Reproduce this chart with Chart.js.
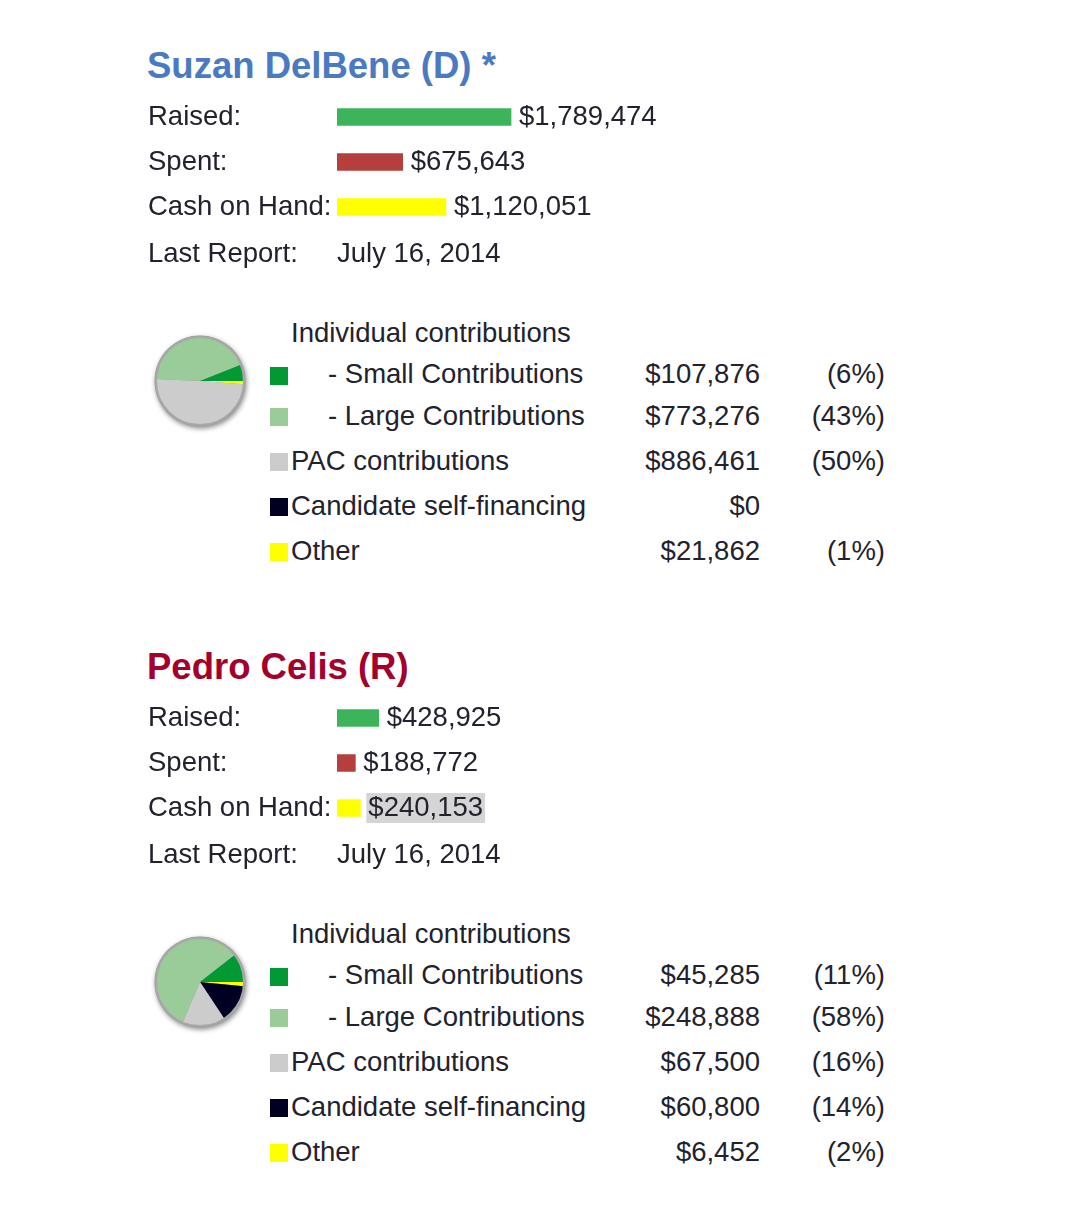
<!DOCTYPE html>
<html>
<head>
<meta charset="utf-8">
<script src="https://cdn.jsdelivr.net/npm/chart.js@4"></script>
<style>
body { margin: 0; background: #fff; width: 1080px; height: 1217px; position: relative; overflow: hidden;
       font-family: "Liberation Sans", Arial, sans-serif; color: #22222e; }
.t { position: absolute; white-space: nowrap; font-size: 27.5px; line-height: 27.5px; }
.h { position: absolute; white-space: nowrap; font-size: 36.5px; line-height: 36.5px; font-weight: bold; }
.sq { position: absolute; width: 18px; height: 18px; }
canvas { position: absolute; }
</style>
</head>
<body>
<script>
const FONT_FAMILY = '"Liberation Sans", Arial, sans-serif';
const TEXT = '#22222e';

// Candidates
const candidateNames = ['Suzan DelBene (D) *', 'Pedro Celis (R)'];
const nameColors = ['#4a7ac2', '#a3002b'];
const reportDates = ['July 16, 2014', 'July 16, 2014'];

// Raised / Spent / Cash on Hand
const summaryLabels = ['Raised:', 'Spent:', 'Cash on Hand:'];
const summaryColors = ['#3cb45a', '#b53f3d', '#ffff00'];
const delbeneSummary = [1789474, 675643, 1120051];
const celisSummary = [428925, 188772, 240153];

// Sources of funds
const sourceHeader = 'Individual contributions';
const sourceLabels = ['- Small Contributions', '- Large Contributions', 'PAC contributions', 'Candidate self-financing', 'Other'];
const sourceColors = ['#009933', '#99cc99', '#cccccc', '#000022', '#ffff00'];
const delbeneSources = [107876, 773276, 886461, 0, 21862];
const celisSources = [45285, 248888, 67500, 60800, 6452];
const delbeneShares = ['(6%)', '(43%)', '(50%)', '', '(1%)'];
const celisShares = ['(11%)', '(58%)', '(16%)', '(14%)', '(2%)'];

const money = v => '$' + v.toLocaleString('en-US');

function addText(cls, text, left, centerY, size, extra) {
    const el = document.createElement('div');
    el.className = cls;
    el.textContent = text;
    el.style.top = (centerY - size * 0.49) + 'px';
    if (extra && extra.right !== undefined) el.style.right = (1080 - extra.right) + 'px';
    else el.style.left = left + 'px';
    if (extra && extra.color) el.style.color = extra.color;
    document.body.appendChild(el);
    return el;
}

function addCanvas(left, top, w, h) {
    const c = document.createElement('canvas');
    c.width = w; c.height = h;
    c.style.left = left + 'px'; c.style.top = top + 'px';
    c.style.width = w + 'px'; c.style.height = h + 'px';
    document.body.appendChild(c);
    return c;
}

// value text at the end of each bar
const valueLabels = {
    id: 'valueLabels',
    afterDatasetsDraw(chart, args, opts) {
        const ctx = chart.ctx;
        const data = chart.data.datasets[0].data;
        ctx.save();
        ctx.font = '27.5px ' + FONT_FAMILY;
        ctx.textBaseline = 'middle';
        ctx.textAlign = 'left';
        chart.getDatasetMeta(0).data.forEach((bar, i) => {
            const text = money(data[i]);
            const x = bar.x + 8;
            if (opts.highlight === i) {
                const w = ctx.measureText(text).width;
                ctx.fillStyle = '#d5d5d5';
                ctx.fillRect(x - 2, bar.y - 15, w + 4, 30);
            }
            ctx.fillStyle = TEXT;
            ctx.fillText(text, x, bar.y);
        });
        ctx.restore();
    }
};

// grey rim and soft shadow round the pie
const pieFrame = {
    id: 'pieFrame',
    beforeDatasetsDraw(chart) {
        const arc = chart.getDatasetMeta(0).data[0];
        const ctx = chart.ctx;
        ctx.save();
        ctx.shadowColor = 'rgba(0,0,0,0.45)';
        ctx.shadowBlur = 5;
        ctx.shadowOffsetX = 1;
        ctx.shadowOffsetY = 2;
        ctx.beginPath();
        ctx.arc(arc.x, arc.y, arc.outerRadius + 1.5, 0, Math.PI * 2);
        ctx.fillStyle = '#9a9a9a';
        ctx.fill();
        ctx.restore();
    },
    afterDatasetsDraw(chart) {
        const arc = chart.getDatasetMeta(0).data[0];
        const ctx = chart.ctx;
        ctx.save();
        ctx.beginPath();
        ctx.arc(arc.x, arc.y, arc.outerRadius, 0, Math.PI * 2);
        ctx.strokeStyle = '#a8a8a8';
        ctx.lineWidth = 2;
        ctx.stroke();
        ctx.restore();
    }
};

function drawCandidate(k, oy, summary, sources, shares) {
    addText('h', candidateNames[k], 147, oy + 66, 36.5, { color: nameColors[k] });

    // summary bars (canvas is taller by one label height: the y axis pads half a label top and bottom)
    const barCanvas = addCanvas(148, oy + 78, 578, 168);
    new Chart(barCanvas, {
        type: 'bar',
        data: {
            labels: summaryLabels,
            datasets: [{
                data: summary,
                backgroundColor: summaryColors,
                barThickness: 17,
                borderWidth: 0
            }]
        },
        options: {
            indexAxis: 'y',
            responsive: false,
            animation: false,
            layout: { padding: 0 },
            scales: {
                x: { display: false, min: 0, max: 4000000 },
                y: {
                    grid: { display: false },
                    border: { display: false },
                    ticks: { crossAlign: 'far', color: TEXT, padding: 0,
                             font: { family: FONT_FAMILY, size: 27.5, lineHeight: 1.2 } },
                    afterFit: scale => { scale.width = 189; }
                }
            },
            plugins: {
                legend: { display: false },
                tooltip: { enabled: false },
                valueLabels: { highlight: k === 1 ? 2 : -1 }
            }
        },
        plugins: [valueLabels]
    });

    addText('t', 'Last Report:', 148, oy + 252, 27.5);
    addText('t', reportDates[k], 337, oy + 252, 27.5);

    // sources pie, drawn clockwise from 3 o'clock in reverse order
    const pieCanvas = addCanvas(145, oy + 326, 110, 110);
    new Chart(pieCanvas, {
        type: 'pie',
        data: {
            labels: sourceLabels.slice().reverse(),
            datasets: [{
                data: sources.slice().reverse(),
                backgroundColor: sourceColors.slice().reverse(),
                borderWidth: 0,
                radius: 44
            }]
        },
        options: {
            responsive: false,
            animation: false,
            rotation: 90,
            layout: { padding: 0 },
            plugins: { legend: { display: false }, tooltip: { enabled: false } }
        },
        plugins: [pieFrame]
    });

    // legend table
    addText('t', sourceHeader, 291, oy + 332, 27.5);
    const rowY = [373, 415, 460, 505, 550];
    const sqTop = [367, 408, 453, 498, 543];
    const textX = [328, 328, 291, 291, 291];
    sourceLabels.forEach((label, i) => {
        const sq = document.createElement('div');
        sq.className = 'sq';
        sq.style.left = '270px';
        sq.style.top = (oy + sqTop[i]) + 'px';
        sq.style.background = sourceColors[i];
        document.body.appendChild(sq);
        addText('t', label, textX[i], oy + rowY[i], 27.5);
        addText('t', money(sources[i]), 0, oy + rowY[i], 27.5, { right: 760 });
        if (shares[i]) addText('t', shares[i], 0, oy + rowY[i], 27.5, { right: 885 });
    });
}

drawCandidate(0, 0, delbeneSummary, delbeneSources, delbeneShares);
drawCandidate(1, 601, celisSummary, celisSources, celisShares);
</script>
</body>
</html>
